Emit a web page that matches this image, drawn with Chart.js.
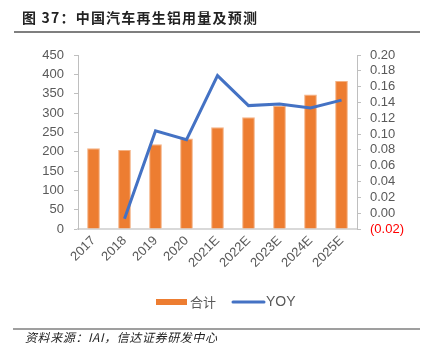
<!DOCTYPE html>
<html>
<head>
<meta charset="utf-8">
<script src="https://cdn.jsdelivr.net/npm/chart.js@4.4.0/dist/chart.umd.min.js"></script>
<style>
  html, body { margin: 0; padding: 0; background: #fff; }
  #wrap { width: 437px; height: 364px; position: relative; }
</style>
</head>
<body>
<div id="wrap"><canvas id="aluChart" width="437" height="364"></canvas></div>
<script>
// 年份
const years = ['2017', '2018', '2019', '2020', '2021E', '2022E', '2023E', '2024E', '2025E'];
// 合计（万吨）
const totals = [209, 204, 219, 234, 263, 289, 318, 348, 383];
// 同比
const yoy = [null, -0.007, 0.104, 0.093, 0.174, 0.136, 0.138, 0.133, 0.143];

const titleText = '图 37：中国汽车再生铝用量及预测';
const sourceText = '资料来源：IAI，信达证券研发中心';
const legendNames = ['合计', 'YOY'];

const orange = '#ED7D31';
const blue = '#4472C4';
const gray = '#595959';
const latin = '"Liberation Sans", Arial, sans-serif';
const cjk = '"Noto Sans CJK SC", "Liberation Sans", sans-serif';

// 标题、图例、资料来源
const decorPlugin = {
    id: 'decor',
    afterDraw(chart) {
        const ctx = chart.ctx;
        ctx.save();
        // 标题
        ctx.fillStyle = '#222';
        ctx.font = 'bold 14px ' + cjk;
        ctx.letterSpacing = '1.2px';
        ctx.textBaseline = 'middle';
        ctx.textAlign = 'left';
        ctx.fillText(titleText, 22, 18);
        ctx.letterSpacing = '0px';
        ctx.strokeStyle = '#7f7f7f';
        ctx.lineWidth = 2;
        ctx.beginPath();
        ctx.moveTo(14, 32);
        ctx.lineTo(420, 32);
        ctx.stroke();

        // 图例
        ctx.fillStyle = orange;
        ctx.fillRect(156, 299, 31, 6);
        ctx.fillStyle = gray;
        ctx.font = '13px ' + cjk;
        ctx.fillText(legendNames[0], 190, 302);
        ctx.strokeStyle = blue;
        ctx.lineWidth = 3;
        ctx.lineCap = 'round';
        ctx.beginPath();
        ctx.moveTo(233, 302);
        ctx.lineTo(264, 302);
        ctx.stroke();
        ctx.font = '14px ' + latin;
        ctx.fillText(legendNames[1], 266, 302);

        // 资料来源
        ctx.strokeStyle = '#7f7f7f';
        ctx.lineWidth = 1.5;
        ctx.lineCap = 'butt';
        ctx.beginPath();
        ctx.moveTo(13, 329);
        ctx.lineTo(420, 329);
        ctx.stroke();
        ctx.fillStyle = '#222';
        ctx.font = 'italic 12px ' + cjk;
        ctx.letterSpacing = '0.6px';
        ctx.fillText(sourceText, 25, 337);
        ctx.restore();
    }
};

const ctx = document.getElementById('aluChart').getContext('2d');
new Chart(ctx, {
    data: {
        labels: years,
        datasets: [{
            type: 'line',
            label: 'YOY',
            data: yoy,
            yAxisID: 'y1',
            borderColor: blue,
            borderWidth: 3,
            pointRadius: 0,
            tension: 0,
            order: 0
        }, {
            type: 'bar',
            label: '合计',
            data: totals,
            yAxisID: 'y',
            backgroundColor: orange,
            borderColor: '#F4B183',
            borderWidth: 1,
            barPercentage: 0.41,
            categoryPercentage: 1,
            order: 1
        }]
    },
    options: {
        responsive: false,
        animation: false,
        layout: { padding: { top: 55, left: 0, right: 0, bottom: 0 } },
        plugins: {
            legend: { display: false },
            tooltip: { enabled: false }
        },
        scales: {
            x: {
                grid: { display: true, drawOnChartArea: false, drawTicks: false },
                border: { color: '#d9d9d9', width: 2 },
                ticks: {
                    color: gray,
                    font: { family: latin, size: 13 },
                    minRotation: 45,
                    maxRotation: 45,
                    autoSkip: false,
                    padding: 4
                },
                afterFit(scale) { scale.height = 135; }
            },
            y: {
                position: 'left',
                min: 0,
                max: 450,
                grid: { drawOnChartArea: false, tickLength: 4, color: '#bfbfbf' },
                border: { color: '#bfbfbf', width: 1 },
                ticks: {
                    stepSize: 50,
                    autoSkip: false,
                    color: gray,
                    font: { family: latin, size: 13 },
                    padding: 10
                },
                afterFit(scale) { scale.width = 78; }
            },
            y1: {
                position: 'right',
                min: -0.02,
                max: 0.20,
                grid: { drawOnChartArea: false, tickLength: 4, color: '#bfbfbf' },
                border: { color: '#bfbfbf', width: 1 },
                ticks: {
                    stepSize: 0.02,
                    autoSkip: false,
                    color: (c) => c.tick && c.tick.value < -0.001 ? '#FF0000' : gray,
                    font: { family: latin, size: 13 },
                    padding: 9,
                    callback: (v) => v < -0.001 ? '(' + Math.abs(v).toFixed(2) + ')' : Math.abs(v).toFixed(2)
                },
                afterFit(scale) { scale.width = 80; }
            }
        }
    },
    plugins: [decorPlugin]
});
</script>
</body>
</html>
